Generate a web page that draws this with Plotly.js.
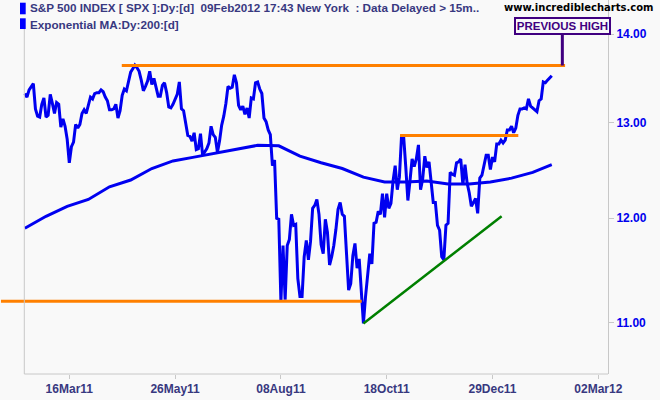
<!DOCTYPE html>
<html><head><meta charset="utf-8">
<script src="https://cdn.plot.ly/plotly-3.0.1.min.js"></script>
<style>html,body{margin:0;padding:0;background:#f9f9f9}</style>
</head><body><div id="chart" style="width:660px;height:400px"></div>
<script>
// S&P 500 daily closes (index / 100), 14 Feb 2011 .. 09 Feb 2012, one value per trading day
const closes = [
13.32,13.28,13.36,13.40,13.43,13.15,13.07,13.06,13.20,13.27,
13.06,13.08,13.31,13.21,13.10,13.22,13.20,12.95,13.04,12.96,12.82,12.57,12.74,12.79,12.98,12.94,12.98,13.10,13.14,13.10,13.19,13.28,13.26,
13.32,13.33,13.33,13.36,13.34,13.28,13.24,13.14,13.14,13.15,13.20,13.05,13.13,13.30,13.37,13.35,13.47,13.56,13.60,13.64,
13.61,13.57,13.47,13.35,13.40,13.46,13.57,13.42,13.49,13.38,13.29,13.29,13.41,13.44,13.33,13.17,13.16,13.20,13.26,13.31,13.45,
13.15,13.13,13.00,12.86,12.85,12.80,12.89,12.71,12.72,12.88,12.65,12.68,12.72,12.78,12.96,12.87,12.84,12.68,12.80,12.97,13.07,13.21,
13.40,13.38,13.39,13.53,13.44,13.19,13.14,13.18,13.09,13.16,13.05,13.27,13.26,13.44,13.45,13.37,13.32,13.05,13.01,12.92,
12.87,12.54,12.60,12.00,11.99,11.19,11.73,11.21,11.73,11.79,12.04,11.93,11.94,11.41,11.24,11.24,11.62,11.78,11.59,11.77,12.10,12.13,12.19,
12.04,11.74,11.65,11.99,11.86,11.54,11.62,11.73,11.89,12.09,12.16,12.04,12.02,11.67,11.30,11.36,11.63,11.75,11.51,11.60,11.31,
10.99,11.24,11.44,11.65,11.55,11.95,11.96,12.07,12.04,12.25,12.01,12.25,12.10,12.15,12.38,12.54,12.29,12.42,12.85,12.85,12.53,
12.18,12.38,12.61,12.53,12.61,12.76,12.29,12.40,12.64,12.52,12.58,12.37,12.16,12.16,11.93,11.88,11.62,11.59,11.93,11.95,12.47,
12.45,12.44,12.57,12.58,12.61,12.34,12.55,12.36,12.26,12.12,12.16,12.20,12.05,12.41,12.44,12.54,12.65,12.65,12.50,12.63,12.58,
12.77,12.77,12.81,12.78,12.81,12.92,12.92,12.96,12.89,12.94,13.08,13.15,13.15,13.16,13.15,13.26,13.18,13.16,13.13,13.12,
13.24,13.26,13.45,13.44,13.47,13.50,13.52
];
const closeDay = closes.map((v, i) => i);

// Exponential MA 200 (trading-day index, value)
const emaDay   = [0,10,20,30,40,50,60,70,80,90,100,110,120,130,140,150,160,170,180,190,200,210,220,230,240,249];
const emaValue = [11.90,12.02,12.12,12.19,12.32,12.39,12.51,12.59,12.63,12.67,12.71,12.755,12.75,12.64,12.57,12.51,12.42,12.37,12.37,12.38,12.35,12.35,12.37,12.41,12.47,12.55];

// x axis ticks (trading-day index)
const tickDay   = [21,71,121,171,221,271];
const tickLabel = ['16Mar11','26May11','08Aug11','18Oct11','29Dec11','02Mar12'];
// y axis ticks
const priceTick      = [11,12,13,14];
const priceTickLabel = ['11.00','12.00','13.00','14.00'];

// hand-drawn lines on the chart
const prevHighDay   = [45.8, 255.3];  const prevHighLevel = [13.636, 13.636];
const augLowDay     = [-11.3, 159.2]; const augLowLevel   = [11.195, 11.195];
const octHighDay    = [177.3, 233.2]; const octHighLevel  = [12.86, 12.86];
const trendDay      = [160, 225.3];   const trendLevel    = [10.99, 12.02];
const calloutDay = 254.0; const calloutLevel = 13.636;

const BLUE = '#0000f0', ORANGE = '#ff8000', GREEN = '#008000', INDIGO = '#400080';
const TXT = '#383880';
const FONT = 'Liberation Sans, Arial, sans-serif';

const traces = [
  {x: emaDay, y: emaValue, mode: 'lines', line: {color: BLUE, width: 3}},
  {x: closeDay, y: closes, mode: 'lines', line: {color: BLUE, width: 3}},
  {x: prevHighDay, y: prevHighLevel, mode: 'lines', line: {color: ORANGE, width: 3}},
  {x: augLowDay, y: augLowLevel, mode: 'lines', line: {color: ORANGE, width: 3}},
  {x: octHighDay, y: octHighLevel, mode: 'lines', line: {color: ORANGE, width: 3}},
  {x: trendDay, y: trendLevel, mode: 'lines', line: {color: GREEN, width: 2.5}}
];

const W = 608, H = 374;
const layout = {
  width: 660, height: 400,
  margin: {l: 0, r: 52, t: 0, b: 26},
  paper_bgcolor: '#f9f9f9', plot_bgcolor: '#f9f9f9',
  showlegend: false,
  xaxis: {
    range: [-11.75, 275.58], showgrid: false, zeroline: false, showline: false,
    tickmode: 'array', tickvals: tickDay, ticktext: tickLabel,
    ticks: 'outside', ticklen: 4, tickcolor: '#c8c8c8', tickwidth: 1,
    tickfont: {family: FONT, size: 12, color: TXT, weight: 'bold'}
  },
  yaxis: {
    type: 'log', side: 'right', range: [1.02261, 1.15848],
    showgrid: false, zeroline: false, showline: true, linecolor: '#c8c8c8', linewidth: 1,
    tickmode: 'array', tickvals: priceTick, ticktext: priceTickLabel,
    ticks: 'outside', ticklen: 5, tickcolor: '#c8c8c8', tickwidth: 1,
    tickfont: {family: FONT, size: 12, color: '#0000ee', weight: 'bold'}
  },
  shapes: [
    {type: 'line', xref: 'paper', yref: 'paper', x0: 24.3/W, x1: 24.3/W, y0: 0, y1: 1 - 29/H, line: {color: '#c8c8c8', width: 1}},
    {type: 'line', xref: 'paper', yref: 'paper', x0: 24.3/W, x1: 1, y0: 0, y1: 0, line: {color: '#c8c8c8', width: 1}},
    {type: 'rect', xref: 'paper', yref: 'paper', x0: 20/W, x1: 25.7/W, y0: 1 - 14.3/H, y1: 1 - 2.7/H, fillcolor: '#0000ff', line: {width: 0}},
    {type: 'rect', xref: 'paper', yref: 'paper', x0: 20/W, x1: 25.7/W, y0: 1 - 29/H, y1: 1 - 18.3/H, fillcolor: '#0000ff', line: {width: 0}}
  ],
  annotations: [
    {xref: 'paper', yref: 'paper', x: 28/W, y: 1 - 8/H, xanchor: 'left', yanchor: 'middle', showarrow: false,
     text: 'S&amp;P 500 INDEX [ SPX ]:Dy:[d]\u00a0\u00a009Feb2012 17:43 New York\u00a0\u00a0: Data Delayed &gt; 15m..',
     font: {family: FONT, size: 11.7, color: TXT, weight: 'bold'}},
    {xref: 'paper', yref: 'paper', x: 28/W, y: 1 - 24/H, xanchor: 'left', yanchor: 'middle', showarrow: false,
     text: 'Exponential MA:Dy:200:[d]',
     font: {family: FONT, size: 11.7, color: TXT, weight: 'bold'}},
    {xref: 'paper', yref: 'paper', x: 656/W, y: 1 - 8/H, xanchor: 'right', yanchor: 'middle', showarrow: false,
     text: 'www.incrediblecharts.com',
     font: {family: 'DejaVu Sans, sans-serif', size: 10, color: '#000000', weight: 'bold'}},
    {xref: 'x', yref: 'y', x: calloutDay, y: Math.log10(calloutLevel),
     text: 'PREVIOUS HIGH', showarrow: true, arrowhead: 0, arrowwidth: 3, arrowcolor: INDIGO,
     ax: 0, ay: -39, bordercolor: INDIGO, borderwidth: 2, borderpad: 1, width: 91, height: 12,
     bgcolor: '#f9f9f9',
     font: {family: FONT, size: 11.5, color: INDIGO, weight: 'bold'}}
  ]
};

Plotly.newPlot('chart', traces, layout, {displayModeBar: false, staticPlot: true});
</script>
</body></html>
